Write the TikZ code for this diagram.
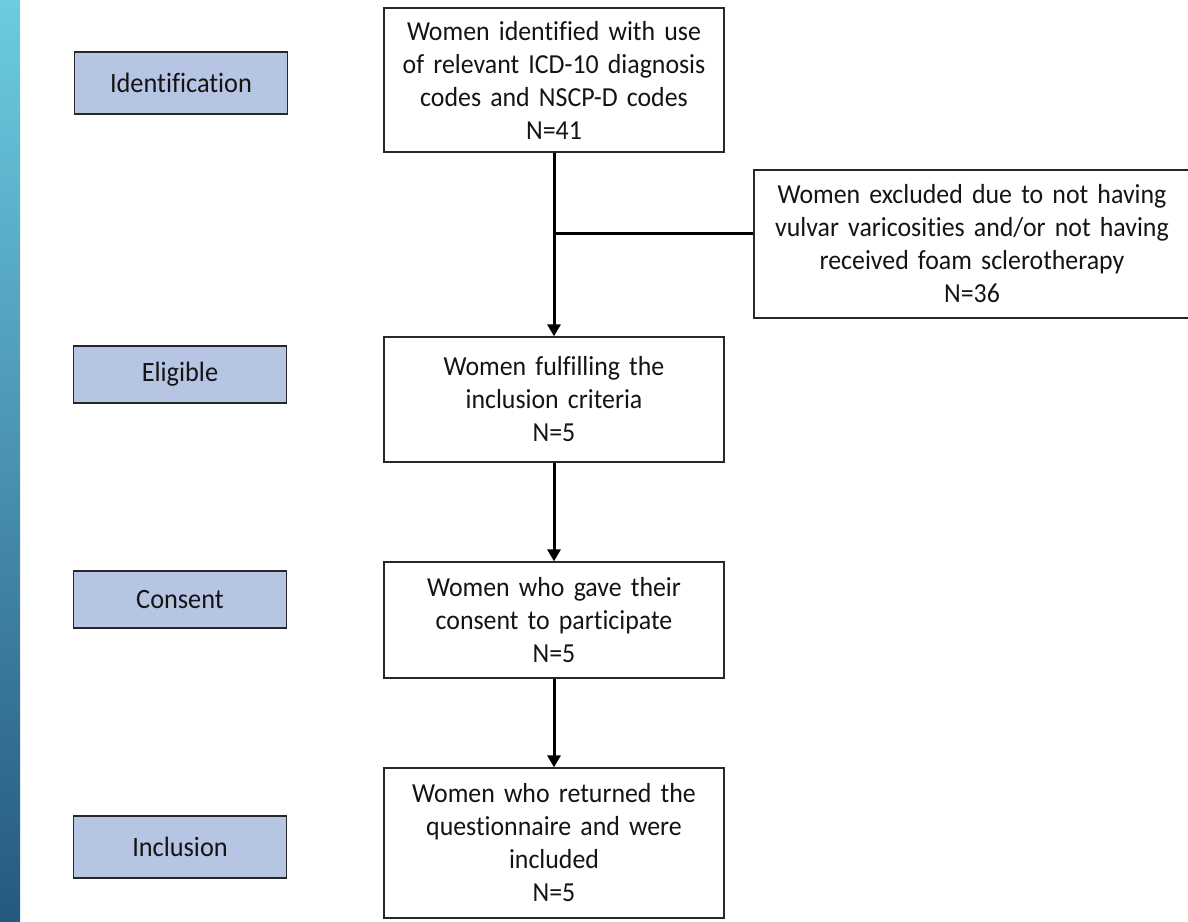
\documentclass[tikz,border=0pt]{standalone}
\usepackage{fontspec}
\setmainfont{Carlito}[Ligatures=NoCommon,FakeStretch=0.94]
\usetikzlibrary{arrows.meta,calc}
\definecolor{barTop}{RGB}{108,204,224}
\definecolor{barMid}{RGB}{84,178,206}
\definecolor{barBot}{RGB}{38,88,128}
\definecolor{labelFill}{RGB}{182,197,227}
\definecolor{lineGray}{RGB}{40,40,40}
\definecolor{textDark}{RGB}{20,20,20}
\begin{document}
\begin{tikzpicture}[x=1pt,y=-1pt,
  mainbox/.style={draw=lineGray,line width=1.3pt,fill=white,align=center,
    minimum width=340pt,text width=335pt,inner sep=0pt,text=textDark,
    font=\fontsize{27.5}{33}\selectfont},
  labelbox/.style={draw=lineGray,line width=1.3pt,fill=labelFill,align=center,
    minimum width=213pt,minimum height=60pt,inner sep=0pt,text=textDark,
    font=\fontsize{28}{33}\selectfont},
  flow/.style={line width=3pt,draw=black},
  flowarrow/.style={flow,-{Triangle[width=13pt,length=12pt]}}]
\useasboundingbox (0,0) rectangle (1188,921);
\fill[white] (0,0) rectangle (1188,921);
\shade[top color=barTop,middle color=barMid,bottom color=barBot] (0,0) rectangle (20,921);

% left labels
\node[labelbox,minimum height=62pt] (lid) at (181,83) {Identification};
\node[labelbox,minimum height=57pt] (lel) at (180,374.5) {Eligible};
\node[labelbox,minimum height=57pt] (lco) at (180,599.5) {Consent};
\node[labelbox,minimum height=62pt] (lin) at (180,847) {Inclusion};

% main boxes
\node[mainbox,minimum height=144pt] (ident) at (554,80)
  {Women identified with use\\of relevant ICD-10 diagnosis\\codes and NSCP-D codes\\N=41};
\node[mainbox,minimum height=125pt] (elig) at (554,399.5)
  {Women fulfilling the\\inclusion criteria\\N=5};
\node[mainbox,minimum height=116pt] (cons) at (554,620)
  {Women who gave their\\consent to participate\\N=5};
\node[mainbox,minimum height=150pt] (incl) at (554,843)
  {Women who returned the\\questionnaire and were\\included\\N=5};
\node[mainbox,minimum width=436pt,text width=430pt,minimum height=148pt] (excl) at (972,244)
  {Women excluded due to not having\\vulvar varicosities and/or not having\\received foam sclerotherapy\\N=36};

% connectors
\coordinate (split) at ($(ident.south)!0.44!(elig.north)$);
\draw[flowarrow] (ident.south) -- (elig.north);
\draw[flow] (split) -- (split -| excl.west);
\draw[flowarrow] (elig.south) -- (cons.north);
\draw[flowarrow] (cons.south) -- (incl.north);
\end{tikzpicture}
\end{document}
